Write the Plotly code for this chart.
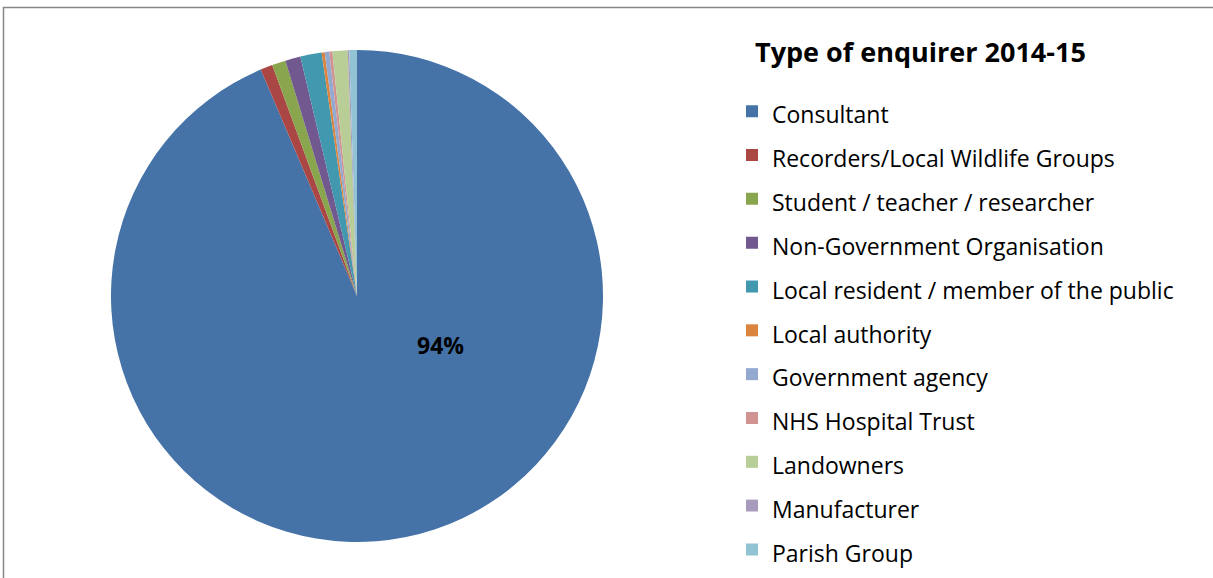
import plotly.graph_objects as go

# enquiry counts by type of enquirer, 2014-15
enquirers = ['Consultant', 'Recorders/Local Wildlife Groups', 'Student / teacher / researcher',
             'Non-Government Organisation', 'Local resident / member of the public',
             'Local authority', 'Government agency', 'NHS Hospital Trust', 'Landowners',
             'Manufacturer', 'Parish Group']
counts = [936, 8, 9, 10, 14, 2, 3, 2, 10, 1, 5]
colours = ['#4572A7', '#AA4643', '#89A54E', '#71588F', '#4198AF', '#DB843D',
           '#93A9CF', '#D19392', '#B9CD96', '#A99BBD', '#92C3D4']

W, H = 1213, 578
FONT = 'Open Sans'

# legend text drawn smaller than the legend font so rows get Excel-like spacing
legend_labels = ["<span style='font-size:23px'>%s</span>" % n for n in enquirers]

fig = go.Figure(go.Pie(
    labels=legend_labels,
    values=counts,
    marker=dict(colors=colours, line=dict(width=0)),
    sort=False,
    direction='clockwise',
    rotation=0,
    textinfo='none',
    hovertext=enquirers,
    hoverinfo='text+percent',
    domain=dict(x=[(357 - 246) / W, (357 + 246) / W], y=[1 - 542 / H, 1 - 50 / H]),
))

pct = round(100 * counts[0] / sum(counts))
fig.add_annotation(x=440 / W, y=1 - 345 / H, xref='paper', yref='paper',
                   text='<b>%d%%</b>' % pct, showarrow=False,
                   font=dict(family=FONT, size=23, color='black'))

# chart area border (cropped at right and bottom like the source image)
fig.add_shape(type='rect', xref='paper', yref='paper',
              x0=3.5 / W, x1=1.05, y0=-0.05, y1=1 - 7.5 / H,
              line=dict(color='#868686', width=1.5), fillcolor='rgba(0,0,0,0)')

title_txt = ("<span style='font-size:27px'><b>&#160;&#160;&#160;Type of enquirer 2014-15</b></span>"
             "<br>&#160;")

fig.update_layout(
    width=W, height=H,
    margin=dict(l=0, r=0, t=0, b=0),
    paper_bgcolor='white',
    font=dict(family=FONT, color='black'),
    showlegend=True,
    legend=dict(
        title=dict(text=title_txt, font=dict(family=FONT, size=17.2)),
        font=dict(family=FONT, size=31.4, color='black'),
        x=(772 - 40) / W, xanchor='left',
        y=1 - 39.6 / H, yanchor='top',
        bgcolor='rgba(0,0,0,0)',
    ),
)

fig.write_html("out.html", config={'displayModeBar': False},
               post_script="document.body.style.margin='0';")
